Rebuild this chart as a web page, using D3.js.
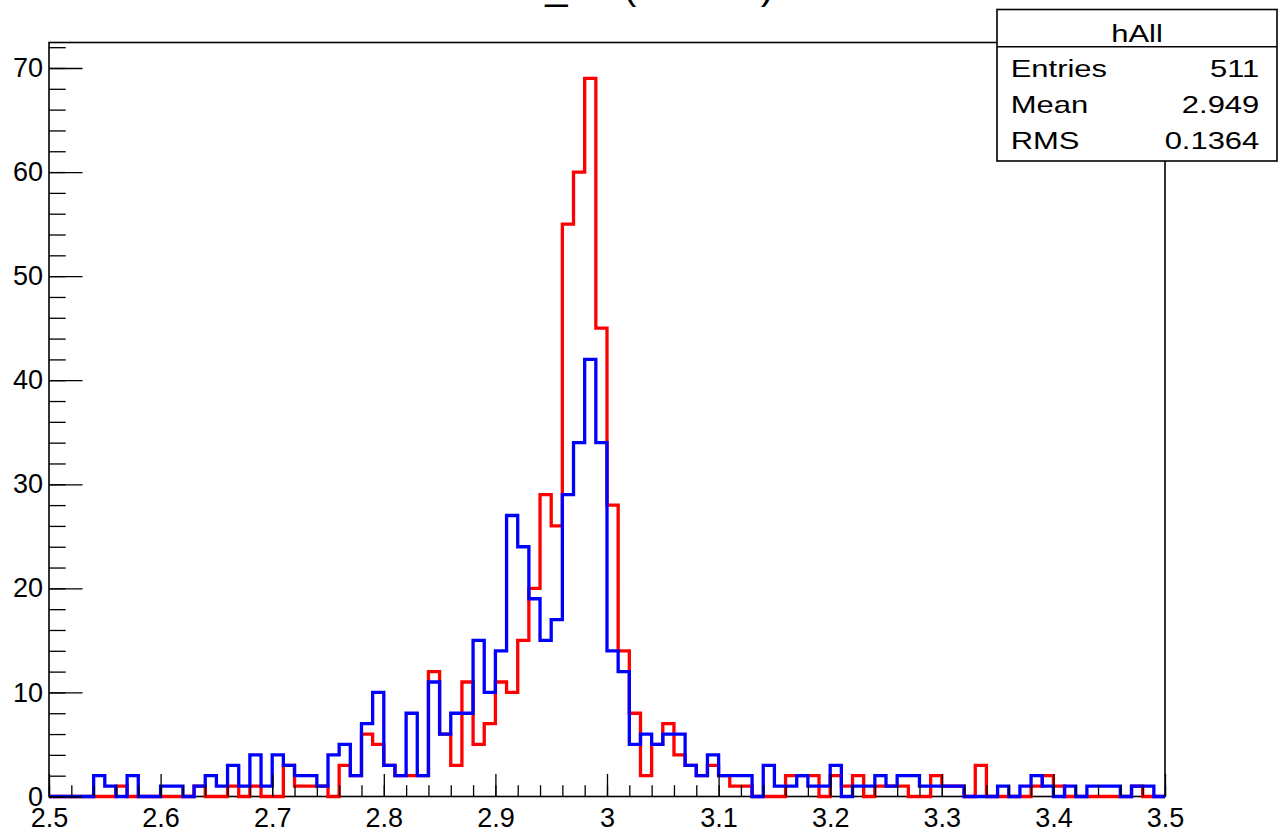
<!DOCTYPE html>
<html>
<head>
<meta charset="utf-8">
<script src="https://cdn.jsdelivr.net/npm/d3@7"></script>
<style>
  html, body { margin: 0; padding: 0; background: #ffffff; }
  svg { display: block; }
  text { font-family: "Liberation Sans", Arial, Helvetica, sans-serif; fill: #000; }
</style>
</head>
<body>
<script>
// Histogram binning: 100 bins of width 0.01 from 2.5 to 3.5
const binStart = 2.5;
const binWidth = 0.01;

// Bin contents, red histogram (drawn first)
const redCounts = [
  0, 0, 0, 0, 0, 0, 1, 0, 0, 0,
  0, 0, 0, 1, 0, 0, 1, 0, 1, 0,
  0, 3, 1, 1, 1, 0, 3, 2, 6, 5,
  3, 2, 2, 2, 12, 6, 3, 11, 5, 7,
  11, 10, 15, 20, 29, 26, 55, 60, 69, 45,
  28, 14, 8, 2, 5, 7, 4, 3, 2, 3,
  2, 1, 1, 0, 0, 0, 2, 2, 2, 0,
  2, 1, 2, 0, 1, 1, 1, 0, 0, 2,
  1, 1, 0, 3, 0, 0, 0, 0, 1, 2,
  1, 0, 0, 0, 0, 0, 0, 1, 0, 0
];

// Bin contents, blue histogram (drawn on top)
const blueCounts = [
  0, 0, 0, 0, 2, 1, 0, 2, 0, 0,
  1, 1, 0, 1, 2, 1, 3, 1, 4, 1,
  4, 3, 2, 2, 1, 4, 5, 2, 7, 10,
  3, 2, 8, 2, 11, 6, 8, 8, 15, 10,
  14, 27, 24, 19, 15, 17, 29, 34, 42, 34,
  14, 12, 5, 6, 5, 6, 6, 3, 2, 4,
  2, 2, 2, 0, 3, 1, 1, 2, 1, 1,
  3, 0, 1, 1, 2, 1, 2, 2, 1, 1,
  1, 1, 0, 0, 0, 1, 0, 1, 2, 1,
  0, 1, 0, 1, 1, 1, 0, 1, 1, 0
];

// Axis ticks and labels
const xMajorTicks = [2.5, 2.6, 2.7, 2.8, 2.9, 3.0, 3.1, 3.2, 3.3, 3.4, 3.5];
const xTickLabels = ["2.5", "2.6", "2.7", "2.8", "2.9", "3", "3.1", "3.2", "3.3", "3.4", "3.5"];
const yMajorTicks = [0, 10, 20, 30, 40, 50, 60, 70];
const yTickLabels = ["0", "10", "20", "30", "40", "50", "60", "70"];

// Statistics box
const statsTitle = "hAll";
const statsNames = ["Entries", "Mean", "RMS"];
const statsValues = ["511", "2.949", "0.1364"];

const titleText = "M_ee (GeV/c\u00B2)";

// ---------------------------------------------------------------
const W = 1286, H = 834;
const frame = { left: 49, right: 1165, top: 42.5, bottom: 796.5 };
const nBins = redCounts.length;
const xMin = binStart, xMax = binStart + nBins * binWidth;
const yMax = d3.max(redCounts.concat(blueCounts)) * 1.05;

const svg = d3.select("body").append("svg")
  .attr("width", W).attr("height", H);

svg.append("rect").attr("width", W).attr("height", H).attr("fill", "#fff");

const x = d3.scaleLinear().domain([xMin, xMax]).range([frame.left, frame.right]);
const y = d3.scaleLinear().domain([0, yMax]).range([frame.bottom, frame.top]);

// Title, mostly above the top edge of the canvas
svg.append("text")
  .attr("x", 643).attr("y", -1)
  .attr("text-anchor", "middle")
  .style("font-size", "40px")
  .text(titleText);

// Frame
svg.append("rect")
  .attr("x", frame.left).attr("y", frame.top)
  .attr("width", frame.right - frame.left)
  .attr("height", frame.bottom - frame.top)
  .attr("fill", "none").attr("stroke", "#000").attr("stroke-width", 1.6);

// Step outline of a histogram
function stepPoints(counts) {
  const pts = [[xMin, 0]];
  counts.forEach((c, i) => {
    const lo = binStart + i * binWidth;
    pts.push([lo, c]);
    pts.push([lo + binWidth, c]);
  });
  pts.push([xMax, 0]);
  return pts;
}
const line = d3.line().x(d => x(d[0])).y(d => y(d[1]));

[[redCounts, "#ff0000"], [blueCounts, "#0000ff"]].forEach(([counts, color]) => {
  svg.append("path")
    .attr("d", line(stepPoints(counts)))
    .attr("fill", "none")
    .attr("stroke", color)
    .attr("stroke-width", 3.3)
    .attr("stroke-linejoin", "miter");
});

// Axes: ticks point into the frame
const xMinorTicks = d3.range(0, 51).map(k => +(xMin + k * 0.02).toFixed(4));
const yMinorTicks = d3.range(0, Math.floor(yMax / 2) + 1).map(k => k * 2);

function styleAxis(g) {
  g.select(".domain").remove();
  g.selectAll(".tick line").attr("stroke", "#000").attr("stroke-width", 1.3);
  g.selectAll(".tick text").style("font-size", "27px").attr("fill", "#000");
}

svg.append("g")
  .attr("transform", `translate(0,${frame.bottom})`)
  .call(d3.axisBottom(x).tickValues(xMinorTicks).tickSize(-11.3).tickFormat(""))
  .call(styleAxis);

svg.append("g")
  .attr("transform", `translate(0,${frame.bottom})`)
  .call(d3.axisBottom(x).tickValues(xMajorTicks).tickSize(-22.6).tickPadding(11)
    .tickFormat((d, i) => xTickLabels[i]))
  .call(styleAxis);

svg.append("g")
  .attr("transform", `translate(${frame.left},0)`)
  .call(d3.axisLeft(y).tickValues(yMinorTicks).tickSize(-16.7).tickFormat(""))
  .call(styleAxis);

svg.append("g")
  .attr("transform", `translate(${frame.left},0)`)
  .call(d3.axisLeft(y).tickValues(yMajorTicks).tickSize(-33.5).tickPadding(6)
    .tickFormat((d, i) => yTickLabels[i]))
  .call(styleAxis);

// Statistics box
const box = { x: 997, y: 9.5, w: 280, h: 151.5, sep: 46.7 };
const stats = svg.append("g");
stats.append("rect")
  .attr("x", box.x).attr("y", box.y).attr("width", box.w).attr("height", box.h)
  .attr("fill", "#fff").attr("stroke", "#000").attr("stroke-width", 1.6);
stats.append("line")
  .attr("x1", box.x).attr("x2", box.x + box.w)
  .attr("y1", box.sep).attr("y2", box.sep)
  .attr("stroke", "#000").attr("stroke-width", 1.6);

const stretch = 1.29;
function statText(tx, ty, anchor, str) {
  stats.append("text")
    .attr("transform", `translate(${tx},${ty}) scale(${stretch},1)`)
    .attr("text-anchor", anchor)
    .style("font-size", "24px")
    .text(str);
}
statText(box.x + box.w / 2, 41.7, "middle", statsTitle);
const rowY = [77.3, 113.3, 149.3];
statsNames.forEach((n, i) => statText(1010.7, rowY[i], "start", n));
statsValues.forEach((v, i) => statText(1259.3, rowY[i], "end", v));
</script>
</body>
</html>
